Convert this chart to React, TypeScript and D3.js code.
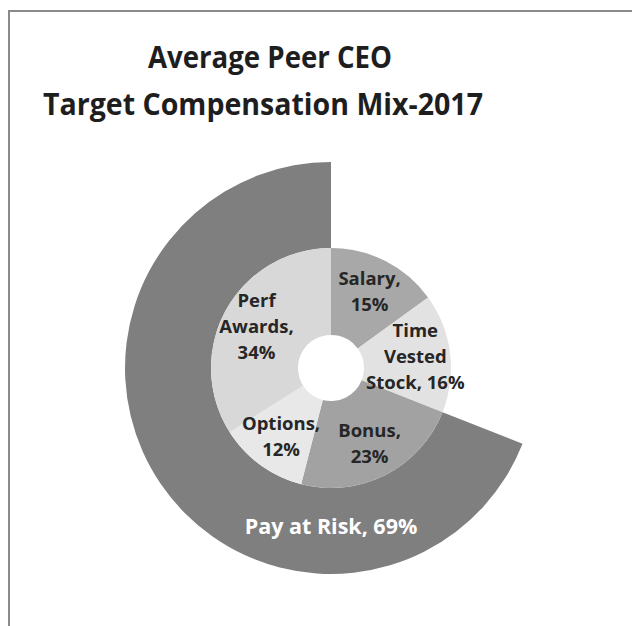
import React from "react";
import * as d3 from "d3";

const titleLines = ["Average Peer CEO", "Target Compensation Mix-2017"];
const components = ["Salary", "Time Vested Stock", "Bonus", "Options", "Perf Awards"];
const componentValues = [15, 16, 23, 12, 34];
const componentLabels = [["Salary,", "15%"], ["Time", "Vested", "Stock, 16%"], ["Bonus,", "23%"], ["Options,", "12%"], ["Perf", "Awards,", "34%"]];
const componentColors = ["#a8a8a8", "#e2e2e2", "#a2a2a2", "#e8e8e8", "#d8d8d8"];
const riskGroup = ["Bonus", "Options", "Perf Awards"];
const riskLabel = "Pay at Risk, 69%";

const W = 632;
const H = 626;
const cx = 331;
const cy = 368;
const rHole = 33;
const rInner = 120;
const rOuter = 206;
const rLabel = 85;

export default function App() {
  const pie = d3.pie<number>().sort(null).value((d) => d);
  const arcs = pie(componentValues);
  const innerArc = d3.arc<d3.PieArcDatum<number>>().innerRadius(rHole).outerRadius(rInner);
  const labelArc = d3.arc<d3.PieArcDatum<number>>().innerRadius(rLabel).outerRadius(rLabel);

  const riskIdx = components.map((c, i) => (riskGroup.includes(c) ? i : -1)).filter((i) => i >= 0);
  const riskStart = d3.min(riskIdx.map((i) => arcs[i].startAngle)) as number;
  const riskEnd = d3.max(riskIdx.map((i) => arcs[i].endAngle)) as number;
  const outerPath = d3.arc()({ innerRadius: rInner, outerRadius: rOuter, startAngle: riskStart, endAngle: riskEnd } as any) as string;
  const riskR = (rInner + rOuter) / 2;

  const lh = 26;
  return (
    <svg width={W} height={H} style={{ position: "absolute", left: 0, top: 0, background: "#ffffff" }}>
      <rect x={9} y={11} width={700} height={700} fill="#ffffff" stroke="#8a8a8a" strokeWidth={2} />
      <g fontFamily="'Open Sans', sans-serif" fontWeight={700} fill="#1e1e1e" textAnchor="middle">
        <text x={270} y={68} fontSize={31} textLength={244} lengthAdjust="spacingAndGlyphs">{titleLines[0]}</text>
        <text x={263} y={115} fontSize={31} textLength={440} lengthAdjust="spacingAndGlyphs">{titleLines[1]}</text>
      </g>
      <g transform={`translate(${cx},${cy})`}>
        <path d={outerPath} fill="#7f7f7f" />
        {arcs.map((a, i) => (
          <path key={components[i]} d={innerArc(a) as string} fill={componentColors[i]} />
        ))}
        {arcs.map((a, i) => {
          const [lx, ly] = labelArc.centroid(a);
          const lines = componentLabels[i];
          const y0 = ly - ((lines.length - 1) * lh) / 2 + 6;
          return (
            <text key={"l" + i} fontFamily="'Open Sans', sans-serif" fontWeight={700} fontSize={18.5} fill="#262626" textAnchor="middle">
              {lines.map((t, j) => (
                <tspan key={j} x={lx} y={y0 + j * lh}>{t}</tspan>
              ))}
            </text>
          );
        })}
        <text x={0} y={riskR + 3} fontFamily="'Open Sans', sans-serif" fontWeight={700} fontSize={21.5} fill="#ffffff" textAnchor="middle">
          {riskLabel}
        </text>
      </g>
    </svg>
  );
}
